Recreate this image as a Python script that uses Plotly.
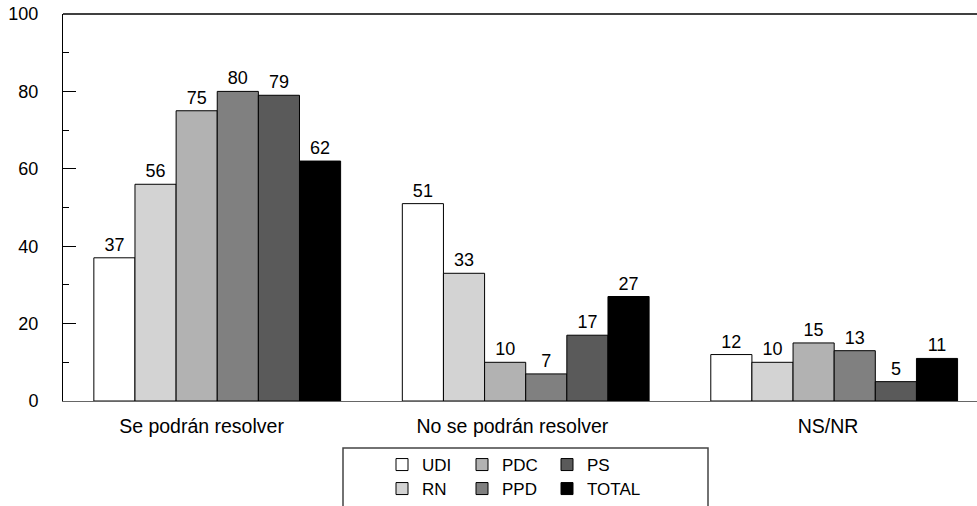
import plotly.graph_objects as go

categories = ["Se podrán resolver", "No se podrán resolver", "NS/NR"]
series_names = ["UDI", "RN", "PDC", "PPD", "PS", "TOTAL"]
udi = [37, 51, 12]
rn = [56, 33, 10]
pdc = [75, 10, 15]
ppd = [80, 7, 13]
ps = [79, 17, 5]
total = [62, 27, 11]
y_ticks = [0, 20, 40, 60, 80, 100]

values = [udi, rn, pdc, ppd, ps, total]
colors = ["#ffffff", "#d3d3d3", "#b2b2b2", "#808080", "#5a5a5a", "#000000"]
# legend grid: 3 columns x 2 rows (column-major, like the reference)
legend_ids = ["legend", "legend2", "legend3", "legend4", "legend5", "legend6"]
legend_cols_px = [382, 382, 462, 462, 547, 547]
legend_rows_px = [447, 471, 447, 471, 447, 471]
# label positions slightly left of group centres, as in the reference
label_pos = [-0.051, 0.957, 1.98]

FONT = "Liberation Sans, Arial, sans-serif"

W, H = 977, 506
PLOT_L, PLOT_T, PLOT_B, PLOT_R = 63, 14, 401, 977
L, T, B, R = PLOT_L, PLOT_T, H - PLOT_B, W - PLOT_R
pw = W - L - R
ph = H - T - B

def px_x(p):
    return (p - PLOT_L) / pw

def px_y(p):
    return (PLOT_B - p) / ph

fig = go.Figure()
for name, vals, col, lg in zip(series_names, values, colors, legend_ids):
    fig.add_trace(go.Bar(
        x=categories, y=vals, name=name,
        marker=dict(color=col, line=dict(color="#000000", width=1)),
        text=[str(v) for v in vals], textposition="outside",
        textfont=dict(family=FONT, size=18, color="#000000"),
        cliponaxis=False, legend=lg, hoverinfo="skip",
    ))

leg_common = dict(font=dict(family=FONT, size=17, color="#000000"),
                  bgcolor="rgba(0,0,0,0)", borderwidth=0,
                  orientation="v", xanchor="left", yanchor="top",
                  tracegroupgap=0, traceorder="normal")

legends = {}
for lg, cx, ry in zip(legend_ids, legend_cols_px, legend_rows_px):
    legends[lg] = dict(x=px_x(cx), y=px_y(ry), **leg_common)

fig.update_layout(
    template="none",
    width=W, height=H,
    margin=dict(l=L, r=R, t=T, b=B, pad=0, autoexpand=False),
    paper_bgcolor="#ffffff", plot_bgcolor="#ffffff",
    barmode="group", bargap=0.2, bargroupgap=0,
    font=dict(family=FONT, size=18, color="#000000"),
    showlegend=True,
    xaxis=dict(range=[-0.5, 2.463], showline=True, linecolor="#666666", linewidth=1,
               ticks="", showgrid=False, zeroline=False, automargin=False,
               tickmode="array", tickvals=label_pos, ticktext=categories,
               tickfont=dict(family=FONT, size=19.5, color="#000000"),
               ticklabelstandoff=8),
    yaxis=dict(range=[0, 100], tickvals=y_ticks, showline=True, linecolor="#000000",
               linewidth=1, ticks="inside", ticklen=13, tickcolor="#000000", tickwidth=1,
               minor=dict(ticks="inside", ticklen=6, dtick=10, tick0=0, tickcolor="#000000",
                          showgrid=False),
               showgrid=False, zeroline=False, automargin=False,
               tickfont=dict(family=FONT, size=18, color="#000000"),
               ticklabelstandoff=20),
    **legends,
)

# top frame line
fig.add_shape(type="line", xref="paper", yref="paper", x0=0, x1=1, y0=1, y1=1,
              line=dict(color="#000000", width=1.5))
# legend frame
fig.add_shape(type="rect", xref="paper", yref="paper",
              x0=px_x(343), x1=px_x(708), y0=px_y(448), y1=px_y(530),
              line=dict(color="#444444", width=1.5), fillcolor="rgba(0,0,0,0)", layer="below")

fig.write_html("out.html",
               config={"displayModeBar": False},
               post_script="document.body.style.margin='0';document.body.style.overflow='hidden';")
